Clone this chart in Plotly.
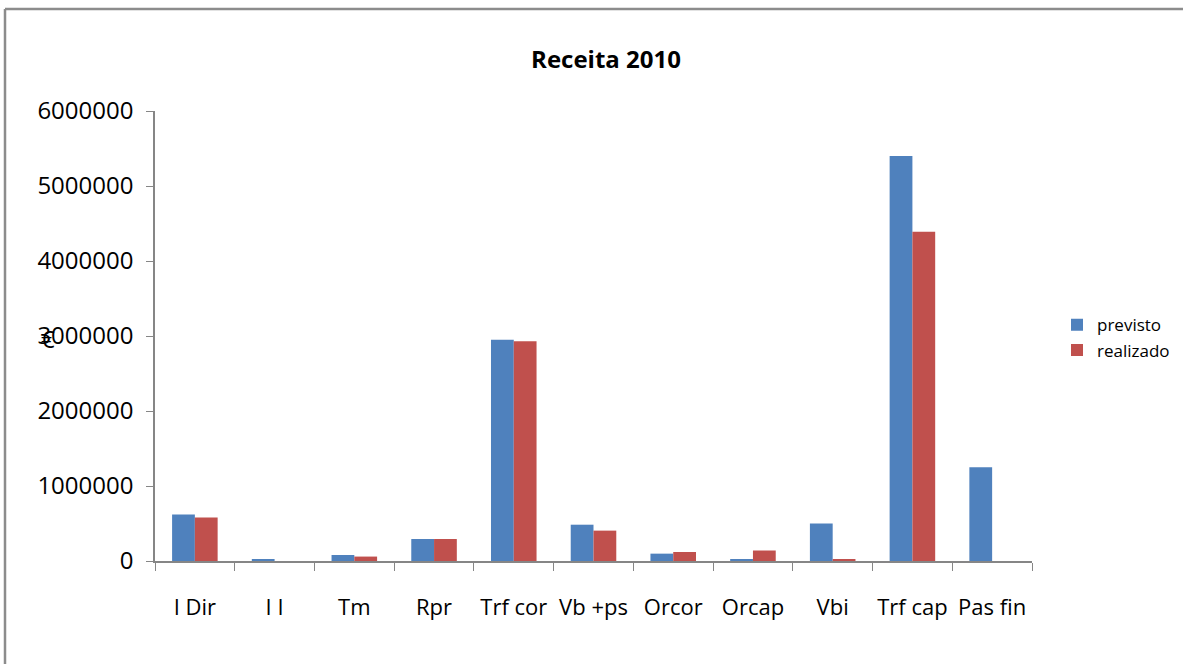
import plotly.graph_objects as go

# Data
categories = ["I Dir", "I I", "Tm", "Rpr", "Trf cor", "Vb +ps", "Orcor", "Orcap", "Vbi", "Trf cap", "Pas fin"]
previsto = [619000, 23000, 80000, 293000, 2950000, 484000, 98000, 23000, 500000, 5400000, 1249000]
realizado = [579000, 0, 59000, 293000, 2930000, 405000, 120000, 140000, 23000, 4390000, 0]
y_ticks = [0, 1000000, 2000000, 3000000, 4000000, 5000000, 6000000]

font_family = "Open Sans, Noto Sans, sans-serif"
axis_grey = "#868686"

fig = go.Figure()
fig.add_trace(go.Bar(x=categories, y=previsto, name="previsto",
                     marker=dict(color="#4F81BD", line=dict(width=0))))
fig.add_trace(go.Bar(x=categories, y=realizado, name="realizado",
                     marker=dict(color="#C0504D", line=dict(width=0))))

fig.update_layout(
    width=1183, height=664,
    margin=dict(l=155, r=151, t=111, b=103, autoexpand=False),
    paper_bgcolor="white", plot_bgcolor="white",
    barmode="group", bargap=0.4286, bargroupgap=0,
    font=dict(family=font_family, color="#000000"),
    title=dict(text="<b>Receita 2010</b>", x=606 / 1183, xanchor="center",
               y=1 - 60 / 664, yanchor="middle",
               font=dict(size=24, family=font_family, color="#000000")),
    legend=dict(x=(1057 - 155) / 877, y=0.496, xanchor="left", yanchor="middle",
                font=dict(size=17, family=font_family), itemwidth=30,
                tracegroupgap=6, bgcolor="rgba(0,0,0,0)"),
    showlegend=True,
)

fig.update_xaxes(
    showline=True, linecolor=axis_grey, linewidth=1.5,
    ticks="outside", tickson="boundaries", ticklen=8, tickcolor=axis_grey,
    tickangle=0, tickfont=dict(size=22, family=font_family), ticklabelstandoff=26,
    showgrid=False, zeroline=False,
)
fig.update_yaxes(
    range=[0, 6000000], tickvals=y_ticks, ticktext=[str(v) for v in y_ticks],
    showline=True, linecolor=axis_grey, linewidth=1.5,
    ticks="outside", ticklen=7, tickcolor=axis_grey,
    tickfont=dict(size=24, family=font_family), ticklabelstandoff=8,
    showgrid=False, zeroline=False,
)

# Euro symbol as the vertical axis title (Excel-style, horizontal)
fig.add_annotation(text="€", xref="paper", yref="paper",
                   x=(48 - 155) / 877, y=(561 - 338) / 450,
                   xanchor="center", yanchor="middle", showarrow=False,
                   font=dict(size=24, family=font_family, color="#000000"))

# Chart frame (left and top edges visible)
frame_x0 = (5 - 155) / 877
frame_x1 = (1183 - 155) / 877
frame_y_top = (561 - 9) / 450
frame_y_bot = (561 - 664) / 450
fig.add_shape(type="line", xref="paper", yref="paper",
              x0=frame_x0, x1=frame_x1, y0=frame_y_top, y1=frame_y_top,
              line=dict(color="#8c8c8c", width=2.5))
fig.add_shape(type="line", xref="paper", yref="paper",
              x0=frame_x0, x1=frame_x0, y0=frame_y_top, y1=frame_y_bot,
              line=dict(color="#8c8c8c", width=2.5))

# drop the default page margin so the figure sits at the window's corner
fig.write_html("out.html", config={"displayModeBar": False},
               post_script="document.body.style.margin='0px';")
